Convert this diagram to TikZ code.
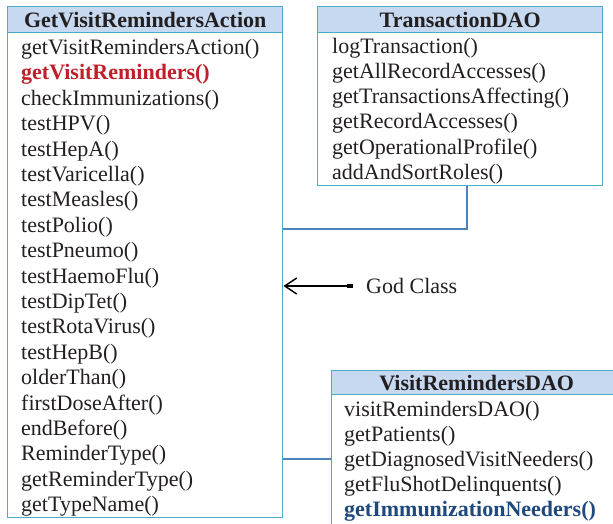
\documentclass[tikz,border=0pt]{standalone}
\usepackage{fontspec}
\setmainfont{Liberation Serif}
\usetikzlibrary{arrows.meta}
\definecolor{boxline}{RGB}{75,172,198}
\definecolor{hdrfill}{RGB}{198,217,240}
\definecolor{linkline}{RGB}{79,129,189}
\definecolor{hotred}{RGB}{192,30,40}
\definecolor{hotblue}{RGB}{31,73,125}
\definecolor{ink}{RGB}{35,31,32}
\begin{document}
\begin{tikzpicture}[x=1pt,y=-1pt,
  every node/.style={font=\fontsize{22}{25}\selectfont, text=ink},
  hdr/.style={draw=boxline, line width=1.4pt, fill=hdrfill, inner sep=0pt,
    anchor=north west, text depth=0pt, font=\fontsize{22}{25}\selectfont\bfseries},
  body/.style={draw=boxline, line width=1.4pt, inner sep=0pt, anchor=north west},
  op/.style={anchor=base west, inner sep=0pt},
  link/.style={draw=linkline, line width=1.1pt}]
\useasboundingbox (0,0) rectangle (613,523);

% GetVisitRemindersAction
\node[body, minimum width=275pt, minimum height=485pt] (gvaB) at (7,32) {};
\node[hdr, minimum width=275pt, minimum height=26pt] (gvaH) at (7,6) {GetVisitRemindersAction};
\foreach \t [count=\i from 0] in {getVisitRemindersAction(),
  {\textcolor{hotred}{\bfseries getVisitReminders()}},
  checkImmunizations(), testHPV(), testHepA(), testVaricella(), testMeasles(),
  testPolio(), testPneumo(), testHaemoFlu(), testDipTet(), testRotaVirus(),
  testHepB(), olderThan(), firstDoseAfter(), endBefore(), ReminderType(),
  getReminderType(), getTypeName()}
  \node[op] (gva\i) at (21,54.5+25.4*\i) {\t};

% TransactionDAO
\node[body, minimum width=285pt, minimum height=153pt] (tdB) at (317,32) {};
\node[hdr, minimum width=285pt, minimum height=26pt] (tdH) at (317,6) {TransactionDAO};
\foreach \t [count=\i from 0] in {logTransaction(), getAllRecordAccesses(),
  getTransactionsAffecting(), getRecordAccesses(), getOperationalProfile(),
  addAndSortRoles()}
  \node[op] (td\i) at (332,53+25.3*\i) {\t};

% VisitRemindersDAO
\node[body, minimum width=290pt, minimum height=140pt] (vrB) at (331,394) {};
\node[hdr, minimum width=290pt, minimum height=24pt] (vrH) at (331,370) {VisitRemindersDAO};
\foreach \t [count=\i from 0] in {visitRemindersDAO(), getPatients(),
  getDiagnosedVisitNeeders(), getFluShotDelinquents(),
  {\textcolor{hotblue}{\bfseries getImmunizationNeeders()}}}
  \node[op] (vr\i) at (344,416+25.2*\i) {\t};

% links between the classes
\coordinate (c1) at (467,229);
\coordinate (c2) at (300,459);
\draw[link] (tdB.south -| c1) |- (gvaB.east |- c1);
\draw[link] (vrB.west |- c2) -- (gvaB.east |- c2);

% annotation
\node[anchor=base west, inner sep=0pt] (god) at (366,293) {God Class};
\coordinate (g1) at (353,286);
\draw[line width=1.5pt, black, {Straight Barb[length=12pt,width=16pt,line width=1.5pt]}-]
  (gvaB.east |- g1) -- (g1);
\draw[line width=4pt, black] ([xshift=-6pt]g1) -- (g1);
\end{tikzpicture}
\end{document}
